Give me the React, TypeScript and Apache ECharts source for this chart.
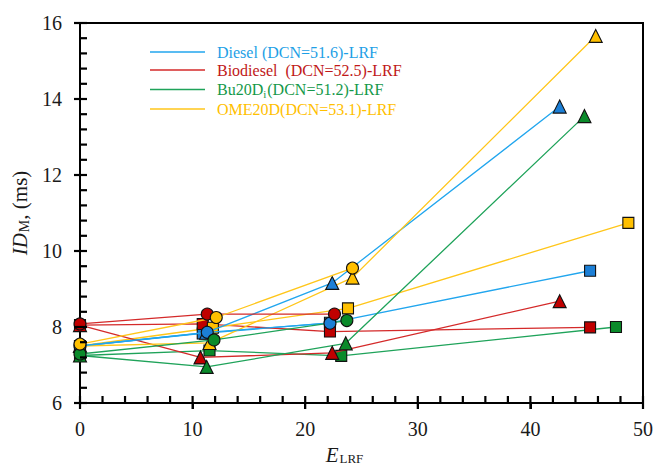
import React, { useEffect, useRef } from "react";
import * as echarts from "echarts";

const FONT = "'Liberation Serif', 'Times New Roman', serif";

// axis ranges and tick positions
const xTicks = { min: 0, max: 50, interval: 10 };
const yTicks = { min: 6, max: 16, interval: 2 };
const xMajorTicks = [0, 10, 20, 30, 40, 50];
const xMinorTicks = [2, 4, 6, 8, 12, 14, 16, 18, 22, 24, 26, 28, 32, 34, 36, 38, 42, 44, 46, 48];
const yMajorTicks = [6, 8, 10, 12, 14, 16];
const yMinorTicks = [6.4, 6.8, 7.2, 7.6, 8.4, 8.8, 9.2, 9.6, 10.4, 10.8, 11.2, 11.6, 12.4, 12.8, 13.2, 13.6, 14.4, 14.8, 15.2, 15.6];

// Diesel (DCN=51.6)-LRF
const dieselSquare = [[0, 7.5], [10.9, 7.83], [22.2, 8.11], [45.3, 9.48]];
const dieselCircle = [[0, 7.5], [11.3, 7.86], [22.2, 8.1]];
const dieselTriangle = [[0, 7.5], [11.2, 7.85], [22.4, 9.16], [42.6, 13.8]];

// Biodiesel (DCN=52.5)-LRF
const bioSquare = [[0, 8.05], [10.9, 8.08], [22.2, 7.88], [45.3, 7.99]];
const bioCircle = [[0, 8.08], [11.3, 8.34], [22.6, 8.34]];
const bioTriangle = [[0, 8.05], [10.7, 7.2], [22.4, 7.32], [42.6, 8.68]];

// Bu20Di (DCN=51.2)-LRF
const buSquare = [[0, 7.25], [11.5, 7.38], [23.2, 7.24], [47.6, 8.0]];
const buCircle = [[0, 7.29], [11.9, 7.66], [23.7, 8.17]];
const buTriangle = [[0, 7.25], [11.25, 6.95], [23.6, 7.57], [44.8, 13.55]];

// OME20D (DCN=53.1)-LRF
const omeSquare = [[0, 7.5], [11.8, 7.98], [23.8, 8.49], [48.7, 10.74]];
const omeCircle = [[0, 7.55], [12.1, 8.25], [24.2, 9.55]];
const omeTriangle = [[0, 7.5], [11.5, 7.58], [24.2, 9.3], [45.8, 15.66]];

const legendNames = [
  "Diesel (DCN=51.6)-LRF",
  "Biodiesel  (DCN=52.5)-LRF",
  "Bu20Di(DCN=51.2)-LRF",
  "OME20D(DCN=53.1)-LRF",
];

const fuels = [
  { key: "d", name: legendNames[0], line: "#22A6EE", marker: "#1C7FD6", data: [dieselSquare, dieselTriangle, dieselCircle] },
  { key: "b", name: legendNames[1], line: "#D42A2A", marker: "#C00000", data: [bioSquare, bioTriangle, bioCircle] },
  { key: "g", name: legendNames[2], line: "#1FA35A", marker: "#0A8A2A", data: [buSquare, buTriangle, buCircle] },
  { key: "o", name: legendNames[3], line: "#FFC61A", marker: "#FFC000", data: [omeSquare, omeTriangle, omeCircle] },
];

const shapes = [
  { symbol: "rect", size: 11 },
  { symbol: "triangle", size: 13 },
  { symbol: "circle", size: 12 },
];

export default function App() {
  const ref = useRef<HTMLDivElement>(null);
  useEffect(() => {
    if (!ref.current) return;
    const chart = echarts.init(ref.current, null, { renderer: "svg" });

    const series: any[] = [];
    // legend-only series
    fuels.forEach((f) => {
      series.push({
        name: f.name,
        type: "line",
        data: [],
        color: f.line,
      });
    });
    shapes.forEach((s, si) => {
      fuels.forEach((f) => {
        series.push({
          name: f.name + "_" + si,
          type: "line",
          data: f.data[si],
          symbol: s.symbol,
          symbolSize: s.size,
          showSymbol: true,
          lineStyle: { color: f.line, width: 1.3 },
          itemStyle: { color: f.marker, borderColor: "#111", borderWidth: 1.1 },
          z: 3 + si,
        });
      });
    });

    // axis ticks drawn as thin rect symbols placed by the axes' own scales:
    // majors cross the axis line, minors point inward
    const tickSeries = (name: string, data: number[][], size: number[], offset: number[]) => ({
      name,
      type: "scatter",
      data,
      symbol: "rect",
      symbolSize: size,
      symbolOffset: offset,
      itemStyle: { color: "#000", borderWidth: 0, opacity: 1 },
      clip: false,
      silent: true,
      z: 10,
    });
    series.push(tickSeries("_xmaj", xMajorTicks.map((v) => [v, yTicks.min]), [2.2, 13], [0, -0.5]));
    series.push(tickSeries("_xmin", xMinorTicks.map((v) => [v, yTicks.min]), [2.2, 7], [0, -3.5]));
    series.push(tickSeries("_ymaj", yMajorTicks.map((v) => [xTicks.min, v]), [13, 2.2], [0.5, 0]));
    series.push(tickSeries("_ymin", yMinorTicks.map((v) => [xTicks.min, v]), [7, 2.2], [3.5, 0]));

    const legendMap: Record<string, string> = {
      [legendNames[0]]: "{d|Diesel (DCN=51.6)-LRF}",
      [legendNames[1]]: "{b|Biodiesel  (DCN=52.5)-LRF}",
      [legendNames[2]]: "{g|Bu20D}{gs|i}{g|(DCN=51.2)-LRF}",
      [legendNames[3]]: "{o|OME20D(DCN=53.1)-LRF}",
    };
    const lt = { fontFamily: FONT, fontSize: 16, lineHeight: 17 };

    const axisLabel = { fontFamily: FONT, fontSize: 20, color: "#1a1a1a" };
    const lineStyle = { color: "#000", width: 2 };
    const tickStyle = { color: "#000", width: 2 };

    chart.setOption({
      animation: false,
      backgroundColor: "#fff",
      grid: {
        left: 80,
        right: 16,
        top: 23,
        bottom: 62,
        show: true,
        borderColor: "#000",
        borderWidth: 2,
        backgroundColor: "transparent",
        containLabel: false,
        outerBoundsMode: "none",
      },
      legend: {
        data: legendNames,
        orient: "vertical",
        left: 150,
        top: 44,
        padding: 0,
        itemGap: 2,
        itemWidth: 55,
        itemHeight: 1.5,
        icon: "rect",
        formatter: (n: string) => legendMap[n] || n,
        textStyle: {
          padding: [0, 0, 0, 7],
          rich: {
            d: { ...lt, color: "#1E9FE6" },
            b: { ...lt, color: "#C01818" },
            g: { ...lt, color: "#15994A" },
            gs: { ...lt, fontSize: 11, color: "#15994A", padding: [8, 1, 0, 0] },
            o: { ...lt, color: "#FFC000" },
          },
        },
      },
      xAxis: {
        type: "value",
        min: xTicks.min,
        max: xTicks.max,
        interval: xTicks.interval,
        axisLine: { show: true, onZero: false, lineStyle },
        axisTick: { show: true, inside: false, length: 6, lineStyle: tickStyle },
        minorTick: { show: false },
        splitLine: { show: false },
        axisLabel: { ...axisLabel, margin: 16 },
        name: "{i|E}{s|LRF}",
        nameLocation: "middle",
        nameGap: 41,
        nameTextStyle: {
          padding: [0, 34, 0, 0],
          rich: {
            i: { fontFamily: FONT, fontSize: 21, fontStyle: "italic", color: "#1a1a1a" },
            s: { fontFamily: FONT, fontSize: 13, color: "#1a1a1a", padding: [7, 0, 0, 1] },
          },
        },
      },
      yAxis: {
        type: "value",
        min: yTicks.min,
        max: yTicks.max,
        interval: yTicks.interval,
        axisLine: { show: true, onZero: false, lineStyle },
        axisTick: { show: true, inside: false, length: 6, lineStyle: tickStyle },
        minorTick: { show: false },
        splitLine: { show: false },
        axisLabel: { ...axisLabel, margin: 18 },
        name: "{i|ID}{s|M}{n|, (ms)}",
        nameLocation: "middle",
        nameGap: 37,
        nameTextStyle: {
          rich: {
            i: { fontFamily: FONT, fontSize: 21, fontStyle: "italic", color: "#1a1a1a" },
            s: { fontFamily: FONT, fontSize: 14, color: "#1a1a1a", padding: [9, 0, 0, 1] },
            n: { fontFamily: FONT, fontSize: 21, color: "#1a1a1a" },
          },
        },
      },
      series,
    });

    return () => chart.dispose();
  }, []);
  return <div ref={ref} style={{ width: 659, height: 465, position: "absolute", left: 0, top: 0 }} />;
}
